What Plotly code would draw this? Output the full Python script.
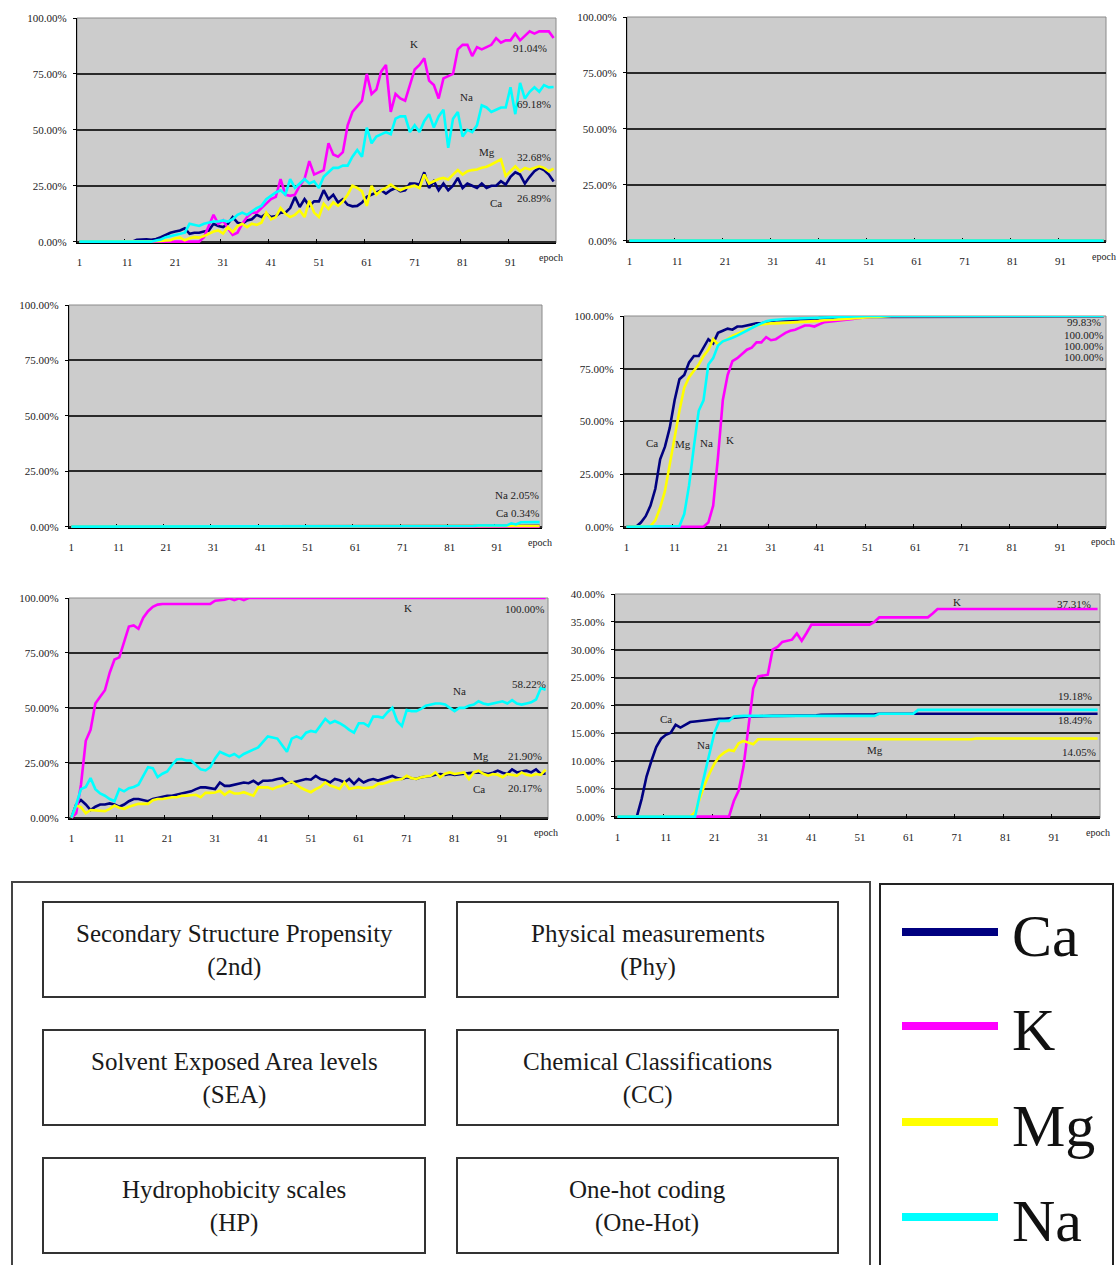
import plotly.graph_objects as go

# ---------------- data (percent, epochs 1..100) ----------------
EPOCHS = list(range(1, 101))
X_TICKS = [1, 11, 21, 31, 41, 51, 61, 71, 81, 91]
IONS = ["Ca", "K", "Mg", "Na"]

# Panel 1: Secondary Structure Propensity (2nd)
SSP_CA = [0, 0, 0, 0, 0, 0, 0, 0, 0, 0,
          0, 0, 0.8, 1, 1, 0.8, 1.2, 2, 3, 4,
          4.5, 5, 6, 3.5, 4, 4, 4.5, 5, 8, 7,
          6.5, 8, 11, 8.5, 8, 9.5, 10, 12, 11, 12.5,
          11, 11.5, 13, 13, 15, 20, 15.5, 19, 16, 18,
          18, 23, 19, 21, 17.5, 19, 16.5, 15.8, 16, 17.5,
          20, 21, 22, 23, 21.5, 23, 24, 22.5, 23, 26,
          26, 25.5, 31, 24, 27, 23, 26, 23, 25, 28.5,
          24, 26, 25, 24, 26, 24, 25, 25, 27, 25.5,
          29, 31, 30, 26, 29, 31.5, 33, 32, 30, 26.89]
SSP_K = [0, 0, 0, 0, 0, 0, 0, 0, 0, 0,
         0, 0, 0, 0, 0, 0, 0, 0, 0, 0,
         0, 0, 0, 0, 0, 0, 2, 7, 12, 8,
         9.5, 6, 3, 4, 8, 11, 13, 13, 15, 17,
         19, 20, 28, 21, 20.5, 21, 25, 28, 36, 30,
         31, 32, 44, 39, 38, 40, 52, 58, 60.5, 63,
         75, 66, 68, 76, 79, 58, 66, 64, 63, 70,
         77, 79, 82, 72, 70, 64, 73, 74, 75, 86,
         88, 88, 83, 87, 86, 87, 88, 91, 89, 90,
         90, 93, 90, 92, 94, 93, 94, 94, 94, 91.04]
SSP_MG = [0, 0, 0, 0, 0, 0, 0, 0, 0, 0,
          0, 0, 0, 0, 0, 0, 0, 0.3, 0.5, 0.6,
          1.5, 1.8, 0.6, 1.5, 2, 1.8, 2.5, 3.5, 4.5, 5,
          3.6, 6.5, 4.3, 7, 8, 6.5, 8, 7.5, 8.5, 13,
          10, 11, 15, 12.5, 11, 12, 14, 11, 18.3, 13,
          11, 17, 14.6, 17.6, 16, 18, 21, 25, 24, 22.5,
          16, 25, 21, 23, 24, 25.5, 24, 23, 24, 24.5,
          25, 24, 30, 26, 27, 28, 28.5, 27.8, 30, 32,
          30, 31.5, 32, 32.3, 33, 33.5, 34.5, 35.5, 36.8, 29.4,
          31.5, 33.7, 31.5, 33, 32.3, 33, 33.7, 33, 31.5, 32.68]
SSP_NA = [0, 0, 0, 0, 0, 0, 0, 0, 0, 0,
          0, 0, 0, 0, 0, 0, 0.5, 1, 2, 2.5,
          3, 3.5, 4, 8, 7.5, 7, 8, 8.5, 9, 9,
          9.5, 9, 10, 12, 13, 12, 13.5, 15, 16, 19,
          20.5, 22, 23, 21, 28, 24, 26, 28, 26, 27,
          24, 29, 31, 33, 33, 34, 34, 38, 41, 38,
          51, 44, 47, 48, 49, 48, 55, 56, 56, 49,
          52, 49, 54, 57, 51, 56, 59, 42, 55, 58,
          47, 50, 49, 52, 61, 60, 58, 59, 60, 60,
          69, 57, 71, 64, 67, 69, 67, 70, 69, 69.18]

# Panel 2: Physical measurements (Phy) -- flat at zero
PHY_CA = [0, 0, 0, 0, 0, 0, 0, 0, 0, 0, 0, 0, 0, 0, 0, 0, 0, 0, 0, 0,
          0, 0, 0, 0, 0, 0, 0, 0, 0, 0, 0, 0, 0, 0, 0, 0, 0, 0, 0, 0,
          0, 0, 0, 0, 0, 0, 0, 0, 0, 0, 0, 0, 0, 0, 0, 0, 0, 0, 0, 0,
          0, 0, 0, 0, 0, 0, 0, 0, 0, 0, 0, 0, 0, 0, 0, 0, 0, 0, 0, 0,
          0, 0, 0, 0, 0, 0, 0, 0, 0, 0, 0, 0, 0, 0, 0, 0, 0, 0, 0, 0]
PHY_K = [0, 0, 0, 0, 0, 0, 0, 0, 0, 0, 0, 0, 0, 0, 0, 0, 0, 0, 0, 0,
         0, 0, 0, 0, 0, 0, 0, 0, 0, 0, 0, 0, 0, 0, 0, 0, 0, 0, 0, 0,
         0, 0, 0, 0, 0, 0, 0, 0, 0, 0, 0, 0, 0, 0, 0, 0, 0, 0, 0, 0,
         0, 0, 0, 0, 0, 0, 0, 0, 0, 0, 0, 0, 0, 0, 0, 0, 0, 0, 0, 0,
         0, 0, 0, 0, 0, 0, 0, 0, 0, 0, 0, 0, 0, 0, 0, 0, 0, 0, 0, 0]
PHY_MG = [0, 0, 0, 0, 0, 0, 0, 0, 0, 0, 0, 0, 0, 0, 0, 0, 0, 0, 0, 0,
          0, 0, 0, 0, 0, 0, 0, 0, 0, 0, 0, 0, 0, 0, 0, 0, 0, 0, 0, 0,
          0, 0, 0, 0, 0, 0, 0, 0, 0, 0, 0, 0, 0, 0, 0, 0, 0, 0, 0, 0,
          0, 0, 0, 0, 0, 0, 0, 0, 0, 0, 0, 0, 0, 0, 0, 0, 0, 0, 0, 0,
          0, 0, 0, 0, 0, 0, 0, 0, 0, 0, 0, 0, 0, 0, 0, 0, 0, 0, 0, 0]
PHY_NA = [0, 0, 0, 0, 0, 0, 0, 0, 0, 0, 0, 0, 0, 0, 0, 0, 0, 0, 0, 0,
          0, 0, 0, 0, 0, 0, 0, 0, 0, 0, 0, 0, 0, 0, 0, 0, 0, 0, 0, 0,
          0, 0, 0, 0, 0, 0, 0, 0, 0, 0, 0, 0, 0, 0, 0, 0, 0, 0, 0, 0,
          0, 0, 0, 0, 0, 0, 0, 0, 0, 0, 0, 0, 0, 0, 0, 0, 0, 0, 0, 0,
          0, 0, 0, 0, 0, 0, 0, 0, 0, 0, 0, 0, 0, 0, 0, 0, 0, 0, 0, 0]

# Panel 3: Solvent Exposed Area levels (SEA)
SEA_CA = [0, 0, 0, 0, 0, 0, 0, 0, 0, 0, 0, 0, 0, 0, 0, 0, 0, 0, 0, 0,
          0, 0, 0, 0, 0, 0, 0, 0, 0, 0, 0, 0, 0, 0, 0, 0, 0, 0, 0, 0,
          0, 0, 0, 0, 0, 0, 0, 0, 0, 0, 0, 0, 0, 0, 0, 0, 0, 0, 0, 0,
          0, 0, 0, 0, 0, 0, 0, 0, 0, 0, 0, 0, 0, 0, 0, 0, 0, 0, 0, 0,
          0, 0, 0, 0, 0, 0, 0, 0, 0, 0, 0, 0, 0, 0, 0.2, 0.3, 0.3, 0.3, 0.3, 0.34]
SEA_K = [0, 0, 0, 0, 0, 0, 0, 0, 0, 0, 0, 0, 0, 0, 0, 0, 0, 0, 0, 0,
         0, 0, 0, 0, 0, 0, 0, 0, 0, 0, 0, 0, 0, 0, 0, 0, 0, 0, 0, 0,
         0, 0, 0, 0, 0, 0, 0, 0, 0, 0, 0, 0, 0, 0, 0, 0, 0, 0, 0, 0,
         0, 0, 0, 0, 0, 0, 0, 0, 0, 0, 0, 0, 0, 0, 0, 0, 0, 0, 0, 0,
         0, 0, 0, 0, 0, 0, 0, 0, 0, 0, 0, 0, 0, 0, 0, 0, 0, 0, 0, 0]
SEA_MG = [0, 0, 0, 0, 0, 0, 0, 0, 0, 0, 0, 0, 0, 0, 0, 0, 0, 0, 0, 0,
          0, 0, 0, 0, 0, 0, 0, 0, 0, 0, 0, 0, 0, 0, 0, 0, 0, 0, 0, 0,
          0, 0, 0, 0, 0, 0, 0, 0, 0, 0, 0, 0, 0, 0, 0, 0, 0, 0, 0, 0,
          0, 0, 0, 0, 0, 0, 0, 0, 0, 0, 0, 0, 0, 0, 0, 0, 0, 0, 0, 0,
          0, 0, 0, 0, 0, 0, 0, 0, 0, 0, 0, 0, 0, 0, 0, 0.2, 0.3, 0.3, 0.3, 0.3]
SEA_NA = [0, 0, 0, 0, 0, 0, 0, 0, 0, 0, 0, 0, 0, 0, 0, 0, 0, 0, 0, 0,
          0, 0, 0, 0, 0, 0, 0, 0, 0, 0, 0, 0, 0, 0, 0, 0, 0, 0, 0, 0,
          0, 0, 0, 0, 0, 0, 0, 0, 0, 0, 0, 0, 0, 0, 0, 0, 0, 0, 0, 0,
          0, 0, 0, 0, 0, 0, 0, 0, 0, 0, 0, 0, 0, 0, 0, 0, 0, 0, 0, 0,
          0.3, 0, 0, 0, 0, 0.3, 0.5, 0.5, 0.5, 0.5, 0.3, 0.5, 0.5, 1.5, 1.0, 2.0, 2.0, 2.0, 1.8, 2.05]

# Panel 4: Chemical Classifications (CC)
CC_CA = [0, 0, 0, 2, 5, 10, 18, 32, 38, 47,
         60, 70, 72, 78, 81, 81, 85, 89, 87, 92,
         93, 94, 93.5, 95, 95, 95.5, 96, 96.5, 96.5, 97,
         97.5, 98, 98, 98, 98, 98, 98.5, 98.5, 98.5, 98.5,
         99, 99, 99, 99, 99, 99.5, 99.5, 99.5, 99.5, 99.5,
         99.5, 99.5, 99.5, 99.5, 99.5, 99.5, 99.5, 99.5, 99.5, 99.5,
         99.83, 99.83, 99.83, 99.83, 99.83, 99.83, 99.83, 99.83, 99.83, 99.83,
         99.83, 99.83, 99.83, 99.83, 99.83, 99.83, 99.83, 99.83, 99.83, 99.83,
         99.83, 99.83, 99.83, 99.83, 99.83, 99.83, 99.83, 99.83, 99.83, 99.83,
         99.83, 99.83, 99.83, 99.83, 99.83, 99.83, 99.83, 99.83, 99.83, 99.83]
CC_K = [0, 0, 0, 0, 0, 0, 0, 0, 0, 0,
        0, 0, 0, 0, 0, 0, 0, 2, 10, 33,
        60, 72, 78.6, 80, 82, 84, 85, 87.5, 87.5, 90,
        88.5, 89, 90.5, 92, 93, 93.5, 94.5, 95.5, 95.5, 95,
        96, 97, 97.3, 97.5, 97.8, 98, 98.3, 98.6, 98.9, 99.2,
        99.5, 99.7, 99.9, 100, 100, 100, 100, 100, 100, 100,
        100, 100, 100, 100, 100, 100, 100, 100, 100, 100,
        100, 100, 100, 100, 100, 100, 100, 100, 100, 100,
        100, 100, 100, 100, 100, 100, 100, 100, 100, 100,
        100, 100, 100, 100, 100, 100, 100, 100, 100, 100]
CC_MG = [0, 0, 0, 0, 0, 0.3, 3, 9, 17, 30,
         43, 55, 66, 71, 74, 77, 81, 84, 89, 86.5,
         88, 89, 90.5, 91.5, 92.5, 93.5, 94.5, 95.5, 96, 96.4,
         96.5, 96.5, 96.6, 96.7, 96.8, 97, 97, 97.2, 97.3, 97.5,
         97.7, 98, 98, 98.2, 98.4, 98.6, 98.8, 99, 99.1, 99.2,
         99.4, 99.5, 99.6, 99.8, 100, 100, 100, 100, 100, 100,
         100, 100, 100, 100, 100, 100, 100, 100, 100, 100,
         100, 100, 100, 100, 100, 100, 100, 100, 100, 100,
         100, 100, 100, 100, 100, 100, 100, 100, 100, 100,
         100, 100, 100, 100, 100, 100, 100, 100, 100, 100]
CC_NA = [0, 0, 0, 0, 0, 0, 0, 0, 0, 0,
         0, 0.3, 6, 19.6, 38, 55, 60, 77, 80, 86,
         88, 88.7, 89.7, 90.7, 92, 93.2, 94.5, 95.5, 96.5, 97.5,
         98, 98.3, 98.5, 98.6, 98.7, 98.8, 98.9, 99, 99.1, 99.2,
         99.3, 99.3, 99.4, 99.5, 99.6, 99.7, 99.8, 99.9, 100, 100,
         100, 100, 100, 100, 100, 100, 100, 100, 100, 100,
         100, 100, 100, 100, 100, 100, 100, 100, 100, 100,
         100, 100, 100, 100, 100, 100, 100, 100, 100, 100,
         100, 100, 100, 100, 100, 100, 100, 100, 100, 100,
         100, 100, 100, 100, 100, 100, 100, 100, 100, 100]

# Panel 5: Hydrophobicity scales (HP)
HP_CA = [0, 6, 8, 6, 3.5, 5, 6, 6, 6.5, 6,
         5, 6, 7.5, 8.5, 8.5, 8, 7.5, 8.5, 9, 9.5,
         10, 10, 10.5, 11, 11.5, 12, 13, 13.8, 13.8, 13.5,
         13, 16, 14.5, 14.5, 15, 15.5, 16, 15.7, 16.8, 15.3,
         16.8, 16.8, 17, 17.6, 18, 16, 16, 16.5, 17, 17.6,
         17.3, 19, 17.6, 17, 16, 17.6, 17, 16, 17.6, 15.4,
         17.6, 16, 17, 17.6, 16.9, 17.5, 18.4, 19, 18, 17.6,
         18.4, 18, 17.6, 18.4, 18.6, 19, 19.5, 19.9, 19.5, 19.9,
         19.5, 19.9, 20, 20.3, 20.6, 20.6, 20.3, 19.9, 20.5, 21.4,
         20.5, 19.9, 22, 20.6, 21, 21.4, 20.6, 22, 19.9, 20.17]
HP_K = [0, 2, 15, 35, 40, 52, 55, 58, 66, 72,
        73, 80, 87, 87.5, 86, 91, 94, 96, 97, 97.3,
        97.3, 97.3, 97.3, 97.3, 97.3, 97.3, 97.3, 97.3, 97.3, 97.3,
        98.8, 99, 99.2, 99.9, 99, 99.9, 99, 100, 100, 100,
        100, 100, 100, 100, 100, 100, 100, 100, 100, 100,
        100, 100, 100, 100, 100, 100, 100, 100, 100, 100,
        100, 100, 100, 100, 100, 100, 100, 100, 100, 100,
        100, 100, 100, 100, 100, 100, 100, 100, 100, 100,
        100, 100, 100, 100, 100, 100, 100, 100, 100, 100,
        100, 100, 100, 100, 100, 100, 100, 100, 100, 100]
HP_MG = [0, 5.5, 4.8, 2, 3.5, 3.3, 3, 3, 4, 5.5,
         4.5, 4, 5, 5.5, 6.3, 6.3, 6.3, 8, 8.5, 8.5,
         9, 9.3, 9.3, 10, 10, 10.2, 10.4, 9.3, 11.3, 11.3,
         11.5, 12.3, 10.4, 12, 11, 11, 11.6, 10.8, 10, 13.8,
         13.8, 13.8, 13, 14, 14.5, 15.3, 16.4, 15, 13.5, 12.5,
         11.6, 13, 14, 16.1, 14.6, 14, 13.1, 16.1, 13.1, 13.5,
         13.9, 13.4, 13.6, 13.9, 15.4, 15.5, 16.1, 16.9, 17.3, 17.6,
         19.1, 18, 17.6, 18.4, 18.8, 19.1, 20.6, 18.4, 20, 20.6,
         19.9, 20.3, 20.6, 17.6, 20.6, 21.4, 20, 19.1, 19.9, 19.5,
         18.4, 19.9, 19.5, 19.1, 20.6, 19.5, 19.1, 19.9, 19.5, 21.9]
HP_NA = [0, 6, 13, 14, 18, 13, 11, 10, 8.5, 7.5,
         13, 12, 13.4, 14, 15, 19, 23, 22.5, 18.5, 20,
         21, 24, 26.5, 26.7, 26, 26, 24, 22, 21.5, 23,
         27, 30, 29, 28, 29, 27.5, 29, 30, 31, 32,
         34.5, 37, 36.5, 36, 33, 30, 36, 37, 36, 38.7,
         39.5, 39, 42, 45, 43, 44, 43, 41.7, 40, 38.7,
         43, 43, 41.7, 46, 46, 45.5, 48, 50, 44, 41.7,
         49, 48.5, 48.5, 49.5, 51, 51.5, 52, 52, 51.5, 50,
         48.5, 50, 50, 51, 51.5, 53, 52, 51.5, 52, 52.5,
         53, 52, 53.5, 52, 51.5, 52, 52.5, 53.8, 59, 58.22]

# Panel 6: One-hot coding (One-Hot)
OH_CA = [0, 0, 0, 0, 0, 3.2, 7.2, 10, 12.5, 14,
         14.7, 15.1, 16.5, 16, 16.5, 17, 17.1, 17.2, 17.4, 17.5,
         17.5, 17.6, 17.6, 17.7, 17.8, 17.9, 18, 18, 18, 18.05,
         18.1, 18.1, 18.1, 18.1, 18.1, 18.1, 18.1, 18.2, 18.2, 18.2,
         18.2, 18.2, 18.3, 18.3, 18.3, 18.3, 18.3, 18.3, 18.3, 18.3,
         18.3, 18.3, 18.4, 18.4, 18.49, 18.49, 18.49, 18.49, 18.49, 18.49,
         18.49, 18.49, 18.49, 18.49, 18.49, 18.49, 18.49, 18.49, 18.49, 18.49,
         18.49, 18.49, 18.49, 18.49, 18.49, 18.49, 18.49, 18.49, 18.49, 18.49,
         18.49, 18.49, 18.49, 18.49, 18.49, 18.49, 18.49, 18.49, 18.49, 18.49,
         18.49, 18.49, 18.49, 18.49, 18.49, 18.49, 18.49, 18.49, 18.49, 18.49]
OH_K = [0, 0, 0, 0, 0, 0, 0, 0, 0, 0,
        0, 0, 0, 0, 0, 0, 0, 0, 0, 0,
        0, 0, 0, 0, 2.8, 4.7, 9, 16, 23, 25.2,
        25.3, 25.5, 30, 30.5, 31.4, 31.6, 31.8, 32.9, 31.6, 33,
        34.5, 34.5, 34.5, 34.5, 34.5, 34.5, 34.5, 34.5, 34.5, 34.5,
        34.5, 34.5, 34.5, 35, 35.8, 35.8, 35.8, 35.8, 35.8, 35.8,
        35.8, 35.8, 35.8, 35.8, 35.8, 36.5, 37.31, 37.31, 37.31, 37.31,
        37.31, 37.31, 37.31, 37.31, 37.31, 37.31, 37.31, 37.31, 37.31, 37.31,
        37.31, 37.31, 37.31, 37.31, 37.31, 37.31, 37.31, 37.31, 37.31, 37.31,
        37.31, 37.31, 37.31, 37.31, 37.31, 37.31, 37.31, 37.31, 37.31, 37.31]
OH_MG = [0, 0, 0, 0, 0, 0, 0, 0, 0, 0,
         0, 0, 0, 0, 0, 0, 0.8, 3.2, 5.8, 7.8,
         9.5, 10.8, 11.5, 12, 11.8, 13.2, 13.6, 13.3, 13, 13.9,
         13.9, 13.9, 13.9, 13.9, 13.9, 13.9, 13.9, 13.9, 13.9, 13.9,
         13.9, 13.9, 13.9, 13.9, 13.9, 13.9, 13.9, 13.9, 13.9, 13.9,
         13.9, 13.9, 13.9, 13.9, 13.9, 13.9, 13.9, 13.9, 13.9, 13.9,
         13.9, 13.9, 13.9, 13.9, 13.9, 13.9, 13.9, 13.9, 13.9, 13.9,
         13.9, 13.9, 13.9, 13.9, 14.05, 14.05, 14.05, 14.05, 14.05, 14.05,
         14.05, 14.05, 14.05, 14.05, 14.05, 14.05, 14.05, 14.05, 14.05, 14.05,
         14.05, 14.05, 14.05, 14.05, 14.05, 14.05, 14.05, 14.05, 14.05, 14.05]
OH_NA = [0, 0, 0, 0, 0, 0, 0, 0, 0, 0,
         0, 0, 0, 0, 0, 0, 0, 4, 7.7, 11.5,
         15.1, 17.2, 17.2, 17.2, 18, 18.1, 18.1, 18.1, 18.1, 18.1,
         18.1, 18.1, 18.1, 18.1, 18.1, 18.1, 18.1, 18.1, 18.1, 18.1,
         18.1, 18.1, 18.1, 18.1, 18.1, 18.1, 18.1, 18.1, 18.1, 18.1,
         18.1, 18.1, 18.1, 18.1, 18.5, 18.5, 18.5, 18.5, 18.5, 18.5,
         18.5, 18.5, 19.18, 19.18, 19.18, 19.18, 19.18, 19.18, 19.18, 19.18,
         19.18, 19.18, 19.18, 19.18, 19.18, 19.18, 19.18, 19.18, 19.18, 19.18,
         19.18, 19.18, 19.18, 19.18, 19.18, 19.18, 19.18, 19.18, 19.18, 19.18,
         19.18, 19.18, 19.18, 19.18, 19.18, 19.18, 19.18, 19.18, 19.18, 19.18]

ENCODING_LABELS = [
    "Secondary Structure Propensity<br>(2nd)",
    "Physical measurements<br>(Phy)",
    "Solvent Exposed Area levels<br>(SEA)",
    "Chemical Classifications<br>(CC)",
    "Hydrophobicity scales<br>(HP)",
    "One-hot coding<br>(One-Hot)",
]

# ---------------- styling / layout ----------------
W, H = 1120, 1265
COLORS = {"Ca": "#000080", "K": "#FF00FF", "Mg": "#FFFF00", "Na": "#00FFFF"}
SERIF = "Liberation Serif, Times New Roman, serif"

PANELS = [
    dict(data={"Ca": SSP_CA, "K": SSP_K, "Mg": SSP_MG, "Na": SSP_NA}, box=(77, 18, 556, 243), ymax=100, dy=25, epoch=(551, 258)),
    dict(data={"Ca": PHY_CA, "K": PHY_K, "Mg": PHY_MG, "Na": PHY_NA}, box=(627, 17, 1106, 242), ymax=100, dy=25, epoch=(1104, 257)),
    dict(data={"Ca": SEA_CA, "K": SEA_K, "Mg": SEA_MG, "Na": SEA_NA}, box=(69, 305, 542, 528), ymax=100, dy=25, epoch=(540, 542)),
    dict(data={"Ca": CC_CA, "K": CC_K, "Mg": CC_MG, "Na": CC_NA}, box=(624, 316, 1106, 528), ymax=100, dy=25, epoch=(1103, 541)),
    dict(data={"Ca": HP_CA, "K": HP_K, "Mg": HP_MG, "Na": HP_NA}, box=(69, 598, 548, 819), ymax=100, dy=25, epoch=(546, 832)),
    dict(data={"Ca": OH_CA, "K": OH_K, "Mg": OH_MG, "Na": OH_NA}, box=(615, 594, 1100, 818), ymax=40, dy=5, epoch=(1098, 832)),
]


def px(x):
    return x / W


def py(y):
    return 1 - y / H


def pct(v):
    return f"{v:.2f}%"


fig = go.Figure()
annotations = []
shapes = []
layout_axes = {}

for i, p in enumerate(PANELS, start=1):
    xa = "x" if i == 1 else f"x{i}"
    ya = "y" if i == 1 else f"y{i}"
    for ion in IONS:
        fig.add_trace(go.Scatter(
            x=EPOCHS, y=p["data"][ion], mode="lines", name=ion,
            line=dict(color=COLORS[ion], width=2.6), xaxis=xa, yaxis=ya,
            showlegend=False, hoverinfo="skip"))
    x0, y0, x1, y1 = p["box"]
    yt = [k * p["dy"] for k in range(int(p["ymax"] / p["dy"]) + 1)]
    ypad = p["ymax"] * 0.006
    layout_axes["xaxis" if i == 1 else f"xaxis{i}"] = dict(
        domain=[px(x0), px(x1)], anchor=ya, range=[0.5, 100.5],
        tickmode="array", tickvals=X_TICKS, ticktext=[str(t) for t in X_TICKS],
        ticks="", showgrid=False, zeroline=False, showline=True,
        linecolor="#000000", linewidth=1.2, layer="below traces",
        minor=dict(tickmode="array", tickvals=[10.5, 20.5, 30.5, 40.5, 50.5, 60.5, 70.5, 80.5, 90.5],
                   ticks="inside", ticklen=4, tickcolor="#000000", showgrid=False),
        tickfont=dict(family=SERIF, size=11, color="#222222"),
        ticklabelstandoff=9, automargin=False, fixedrange=True)
    layout_axes["yaxis" if i == 1 else f"yaxis{i}"] = dict(
        domain=[py(y1), py(y0)], anchor=xa, range=[-ypad, p["ymax"]],
        tickmode="array", tickvals=yt, ticktext=[pct(v) for v in yt],
        ticks="outside", ticklen=3, tickcolor="#000000",
        showgrid=True, gridcolor="#2a2a2a", gridwidth=1.6,
        zeroline=False, showline=True, linecolor="#000000", linewidth=1.2,
        layer="below traces",
        tickfont=dict(family=SERIF, size=11, color="#222222"),
        ticklabelstandoff=4, automargin=False, fixedrange=True)
    # light frame of the plot area (top / right edges)
    shapes.append(dict(type="rect", xref="paper", yref="paper",
                       x0=px(x0), x1=px(x1), y0=py(y1), y1=py(y0),
                       line=dict(color="#8a8a8a", width=1), layer="below"))
    ex, ey = p["epoch"]
    annotations.append(dict(text="epoch", x=px(ex), y=py(ey), xref="paper", yref="paper",
                            xanchor="center", yanchor="middle",
                            showarrow=False, font=dict(family=SERIF, size=10, color="#222222")))


def label(text, x, y, size=11):
    annotations.append(dict(text=text, x=px(x), y=py(y), xref="paper", yref="paper",
                            xanchor="center", yanchor="middle",
                            showarrow=False, font=dict(family=SERIF, size=size, color="#222222")))


# Panel 1 labels
label("K", 414, 44); label(pct(SSP_K[-1]), 530, 48)
label("Na", 466, 97); label(pct(SSP_NA[-1]), 534, 104)
label("Mg", 487, 152); label(pct(SSP_MG[-1]), 534, 157)
label("Ca", 496, 203); label(pct(SSP_CA[-1]), 534, 198)
# Panel 3 labels
label("Na " + pct(SEA_NA[-1]), 517, 495)
label("Ca " + pct(SEA_CA[-1]), 517, 513)
# Panel 4 labels
label(pct(CC_CA[-1]), 1084, 322)
label(pct(CC_K[-1]), 1083, 335)
label(pct(CC_MG[-1]), 1083, 346)
label(pct(CC_NA[-1]), 1083, 357)
label("Ca", 652, 443); label("Mg", 683, 444); label("Na", 706, 443); label("K", 730, 440)
# Panel 5 labels
label("K", 408, 608); label(pct(HP_K[-1]), 524, 609)
label("Na", 459, 691); label(pct(HP_NA[-1]), 529, 684)
label("Mg", 481, 756); label(pct(HP_MG[-1]), 525, 756)
label("Ca", 479, 789); label(pct(HP_CA[-1]), 525, 788)
# Panel 6 labels
label("K", 957, 602); label(pct(OH_K[-1]), 1074, 604)
label(pct(OH_NA[-1]), 1075, 696)
label("Ca", 666, 719); label(pct(OH_CA[-1]), 1075, 720)
label("Na", 703, 745)
label("Mg", 875, 750); label(pct(OH_MG[-1]), 1079, 752)

# ---------------- bottom key ----------------
shapes.append(dict(type="rect", xref="paper", yref="paper", x0=px(12), x1=px(870), y0=py(1275), y1=py(882),
                   line=dict(color="#444444", width=2)))
shapes.append(dict(type="rect", xref="paper", yref="paper", x0=px(880), x1=px(1113), y0=py(1275), y1=py(884),
                   line=dict(color="#222222", width=2)))
BOX_COLS = [(43, 425), (457, 838)]
BOX_ROWS = [(902, 997), (1030, 1125), (1158, 1253)]
for k, text in enumerate(ENCODING_LABELS):
    r, c = divmod(k, 2)
    bx0, bx1 = BOX_COLS[c]
    by0, by1 = BOX_ROWS[r]
    shapes.append(dict(type="rect", xref="paper", yref="paper", x0=px(bx0), x1=px(bx1), y0=py(by1), y1=py(by0),
                       line=dict(color="#333333", width=2)))
    annotations.append(dict(text=text, x=px((bx0 + bx1) / 2), y=py((by0 + by1) / 2 + 1), xref="paper", yref="paper",
                            xanchor="center", yanchor="middle",
                            showarrow=False, align="center",
                            font=dict(family=SERIF, size=25, color="#1a1a1a")))

LEGEND_Y = [932, 1026, 1122, 1217]
for ion, ly in zip(IONS, LEGEND_Y):
    shapes.append(dict(type="line", xref="paper", yref="paper", x0=px(902), x1=px(998), y0=py(ly), y1=py(ly),
                       line=dict(color=COLORS[ion], width=8)))
    annotations.append(dict(text=ion, x=px(1010), y=py(ly + 4), xref="paper", yref="paper",
                            xanchor="left", yanchor="middle", showarrow=False,
                            font=dict(family=SERIF, size=60, color="#111111")))

fig.update_layout(
    width=W, height=H, margin=dict(l=0, r=0, t=0, b=0, pad=0, autoexpand=False),
    paper_bgcolor="#FFFFFF", plot_bgcolor="#CCCCCC",
    showlegend=False, annotations=annotations, shapes=shapes,
    **layout_axes)

fig.write_html("out.html", config={"displayModeBar": False})
